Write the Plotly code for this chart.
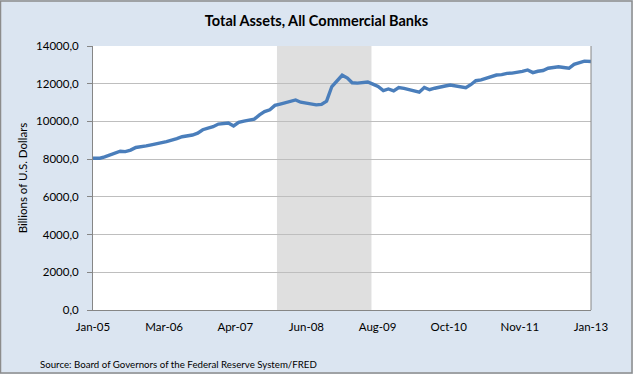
import plotly.graph_objects as go
import pandas as pd

# ---- data (billions of U.S. dollars, monthly readings) ----
months = pd.date_range("2005-01-15", "2012-12-15", freq="MS") + pd.Timedelta(days=14)
values_2005 = [8050, 8120, 8220, 8300, 8420, 8400, 8480, 8620, 8650, 8700, 8760, 8840]
values_2006 = [8880, 8930, 8990, 9090, 9190, 9230, 9280, 9380, 9560, 9650, 9720, 9860]
values_2007 = [9880, 9920, 9760, 9950, 10020, 10080, 10120, 10350, 10520, 10620, 10850, 10920]
values_2008 = [10980, 11050, 11140, 11020, 10980, 10940, 10880, 10900, 11080, 11850, 12150, 12450]
values_2009 = [12300, 12050, 12030, 12050, 12090, 11980, 11850, 11630, 11720, 11620, 11800, 11750]
values_2010 = [11680, 11660, 11550, 11800, 11680, 11760, 11840, 11880, 11930, 11880, 11850, 11790]
values_2011 = [11960, 12160, 12200, 12290, 12380, 12460, 12480, 12550, 12560, 12590, 12650, 12730]
values_2012 = [12590, 12660, 12700, 12820, 12850, 12900, 12860, 12820, 13030, 13100, 13200, 13180]

start_date = "2005-01-05"
end_date = "2013-01-23"
start_value = 8050
end_value = 13180

recession_start = "2007-12-27"
recession_end = "2009-07-07"

tick_labels = ["Jan-05", "Mar-06", "Apr-07", "Jun-08", "Aug-09", "Oct-10", "Nov-11", "Jan-13"]
y_ticks = [0, 2000, 4000, 6000, 8000, 10000, 12000, 14000]
y_tick_labels = ["0,0", "2000,0", "4000,0", "6000,0", "8000,0", "10000,0", "12000,0", "14000,0"]

title_text = "Total Assets, All Commercial Banks"
y_title = "Billions of U.S. Dollars"
source_text = "Source: Board of Governors of the Federal Reserve System/FRED"

# ---- build series ----
values = (values_2005 + values_2006 + values_2007 + values_2008 +
          values_2009 + values_2010 + values_2011 + values_2012)
dates = [pd.Timestamp(start_date)] + list(months) + [pd.Timestamp(end_date)]
series = [start_value] + values + [end_value]

# Excel-style category labels every 60 weeks
tick_vals = [pd.Timestamp(start_date) + pd.Timedelta(weeks=60 * k) for k in range(len(tick_labels))]

FONT = "Lato, 'Open Sans', sans-serif"
BG = "#dbe5f1"

fig = go.Figure()
fig.add_trace(go.Scatter(
    x=dates, y=series, mode="lines",
    line=dict(color="#4a7ebb", width=3.4),
    showlegend=False, hoverinfo="x+y",
))

# recession shading
fig.add_shape(type="rect", xref="x", yref="paper",
              x0=recession_start, x1=recession_end, y0=0, y1=1,
              fillcolor="#dfdfdf", line=dict(width=0), layer="below")
# right border of plot area
fig.add_shape(type="line", xref="paper", yref="paper", x0=1, x1=1, y0=0, y1=1,
              line=dict(color="#868686", width=1))
# outer chart border
fig.add_shape(type="rect", xref="paper", yref="paper",
              x0=-92.5 / 498, x1=(632 - 93) / 498,
              y0=(310 - 373) / 264, y1=(310 - 1) / 264,
              line=dict(color="#8c8c8c", width=1.5), fillcolor="rgba(0,0,0,0)")

fig.update_layout(
    width=633, height=374,
    margin=dict(l=93, r=42, t=46, b=64, autoexpand=False),
    paper_bgcolor=BG, plot_bgcolor="white",
    font=dict(family=FONT, size=11, color="#000000"),
    title=dict(text="<b>" + title_text + "</b>", x=0.5, xref="container", xanchor="center",
               y=1 - 21 / 374, yref="container", yanchor="middle",
               font=dict(family=FONT, size=14.5, color="#000000")),
    xaxis=dict(
        type="date", range=[start_date, end_date], automargin=False,
        tickmode="array", tickvals=tick_vals, ticktext=tick_labels,
        showgrid=False, showline=True, linecolor="#868686", linewidth=1,
        ticks="", ticklabelstandoff=6,
        tickfont=dict(family=FONT, size=11.5),
        zeroline=False,
    ),
    yaxis=dict(
        range=[0, 14000], tickmode="array", tickvals=y_ticks, ticktext=y_tick_labels,
        automargin=False,
        showgrid=True, gridcolor="#bebebe", gridwidth=1,
        showline=True, linecolor="#868686", linewidth=1,
        ticks="outside", ticklen=5, tickcolor="#868686",
        ticklabelstandoff=6,
        tickfont=dict(family=FONT, size=11.5),
        title=dict(text=y_title, standoff=6, font=dict(family=FONT, size=11.5)),
        zeroline=False,
    ),
)

fig.add_annotation(text=source_text, xref="paper", yref="paper",
                   x=(38 - 93) / 498, y=(310 - 364) / 264,
                   xanchor="left", yanchor="middle", showarrow=False,
                   font=dict(family=FONT, size=9.7, color="#000000"))

fig.write_html("out.html",
               config={"displayModeBar": False},
               post_script="document.body.style.margin='0';document.body.style.padding='0';"
                           "document.body.style.overflow='hidden';")
